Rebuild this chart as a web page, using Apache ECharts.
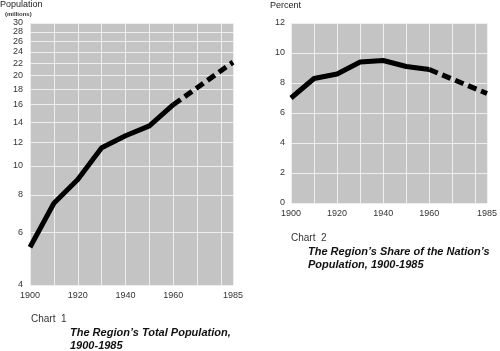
<!DOCTYPE html>
<html>
<head>
<meta charset="utf-8">
<script src="https://cdn.jsdelivr.net/npm/echarts@6/dist/echarts.min.js"></script>
<style>
  html, body { margin: 0; padding: 0; background: #fff; }
  #chart { width: 500px; height: 351px; }
</style>
</head>
<body>
<div id="chart"></div>
<script>
// 数据
const histYears = [1900, 1910, 1920, 1930, 1940, 1950, 1960];
const projYears = [1960, 1985];
const popHist = [5.35, 7.5, 9.0, 11.5, 12.6, 13.6, 16.0];
const popProj = [16.0, 22.2];
const shareHist = [7.0, 8.3, 8.6, 9.4, 9.5, 9.1, 8.9];
const shareProj = [8.9, 7.3];
const popTicks = [4, 6, 8, 10, 12, 14, 16, 18, 20, 22, 24, 26, 28, 30];
const yearLabels = [1900, 1920, 1940, 1960, 1985];

const pair = (xs, ys) => xs.map((x, i) => [x, ys[i]]);

const labelFont = { fontFamily: 'Liberation Sans', fontSize: 9, color: '#333' };
const titleFont = { fontFamily: 'Liberation Sans', fontSize: 11, fontWeight: 'bold', fontStyle: 'italic', color: '#111' };

const xAxisBase = {
    type: 'value',
    min: 1900,
    max: 1985,
    interval: 10,
    axisLine: { show: false },
    axisTick: { show: false },
    splitLine: { show: true, lineStyle: { color: '#eeeeee', width: 1 } },
    axisLabel: Object.assign({ customValues: yearLabels, margin: 6, formatter: v => String(v) }, labelFont)
};

const lineSeries = (idx, data, dashed) => ({
    type: 'line',
    xAxisIndex: idx,
    yAxisIndex: idx,
    data: data,
    symbol: 'none',
    lineStyle: {
        color: '#000',
        width: 5,
        type: dashed ? [9, 5] : 'solid'
    }
});

const chart = echarts.init(document.getElementById('chart'));

chart.setOption({
    animation: false,
    grid: [
        { left: 30, top: 23, width: 203, height: 262, show: true, backgroundColor: '#c4c4c4', borderWidth: 0 },
        { left: 291, top: 23, width: 201, height: 180, show: true, backgroundColor: '#c4c4c4', borderWidth: 0 }
    ],
    xAxis: [
        Object.assign({ gridIndex: 0 }, xAxisBase),
        Object.assign({ gridIndex: 1 }, xAxisBase)
    ],
    yAxis: [
        {
            gridIndex: 0,
            type: 'log',
            logBase: 10,
            min: 4,
            max: 30,
            axisLine: { show: false },
            axisTick: { show: false, customValues: popTicks },
            splitLine: { show: true, lineStyle: { color: '#eeeeee', width: 1 } },
            axisLabel: Object.assign({ customValues: popTicks, margin: 7 }, labelFont)
        },
        {
            gridIndex: 1,
            type: 'value',
            min: 0,
            max: 12,
            interval: 2,
            axisLine: { show: false },
            axisTick: { show: false },
            splitLine: { show: true, lineStyle: { color: '#eeeeee', width: 1 } },
            axisLabel: Object.assign({ margin: 6 }, labelFont)
        }
    ],
    title: [
        { text: 'Population', left: 0, top: 0, padding: 0, textStyle: { fontFamily: 'Liberation Sans', fontSize: 9, fontWeight: 'normal', color: '#222' } },
        { text: '(millions)', left: 5, top: 11, padding: 0, textStyle: { fontFamily: 'Liberation Sans', fontSize: 6, fontWeight: 'bold', color: '#333' } },
        { text: 'Percent', left: 270, top: 1, padding: 0, textStyle: { fontFamily: 'Liberation Sans', fontSize: 9, fontWeight: 'normal', color: '#222' } },
        { text: 'Chart  1', left: 31, top: 314, padding: 0, textStyle: { fontFamily: 'Liberation Sans', fontSize: 10, fontWeight: 'normal', color: '#333' } },
        { text: 'The Region\u2019s Total Population,\n1900-1985', left: 70, top: 326, padding: 0, textStyle: Object.assign({ lineHeight: 13 }, titleFont) },
        { text: 'Chart  2', left: 291, top: 233, padding: 0, textStyle: { fontFamily: 'Liberation Sans', fontSize: 10, fontWeight: 'normal', color: '#333' } },
        { text: 'The Region\u2019s Share of the Nation\u2019s\nPopulation, 1900-1985', left: 308, top: 245, padding: 0, textStyle: Object.assign({ lineHeight: 13.5 }, titleFont) }
    ],
    series: [
        lineSeries(0, pair(histYears, popHist), false),
        lineSeries(0, pair(projYears, popProj), true),
        lineSeries(1, pair(histYears, shareHist), false),
        lineSeries(1, pair(projYears, shareProj), true)
    ]
});
</script>
</body>
</html>
